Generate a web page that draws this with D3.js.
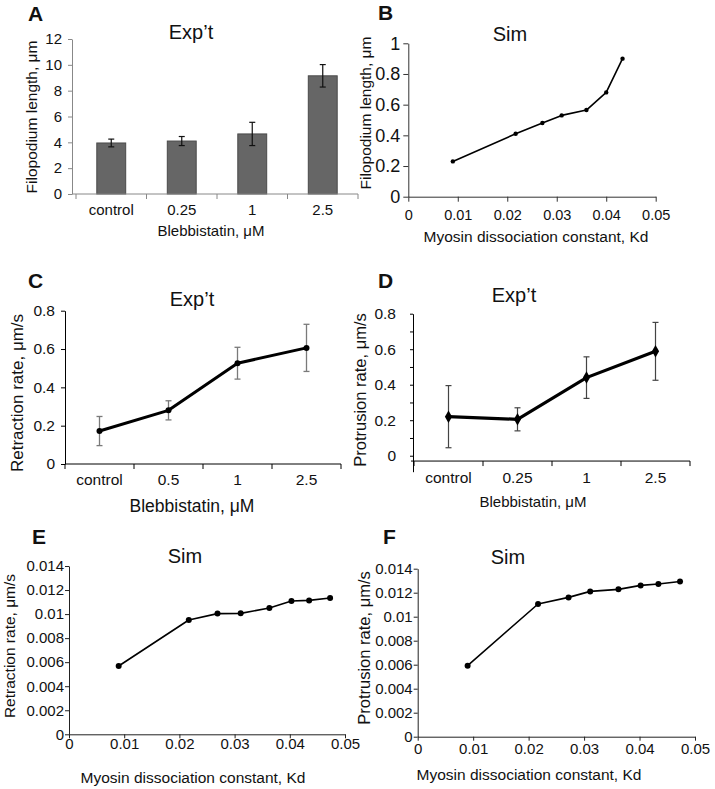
<!DOCTYPE html>
<html>
<head>
<meta charset="utf-8">
<script src="https://cdn.jsdelivr.net/npm/d3@7"></script>
<style>
    body { margin: 0; background: #fff; }
    svg text { font-family: "Liberation Sans", Arial, Helvetica, sans-serif; fill: #111; }
</style>
</head>
<body>
<div id="fig"></div>
<script>
// ---- data ----
// A: filopodium length (experiment)
const catsA = ["control", "0.25", "1", "2.5"];
const lengthA = [3.95, 4.1, 4.65, 9.15];
const errA = [0.3, 0.35, 0.9, 0.87];
const yTicksA = [0, 2, 4, 6, 8, 10, 12];

// B: filopodium length (simulation)
const kdB = [0.009, 0.0217, 0.0271, 0.031, 0.036, 0.040, 0.0433];
const lengthB = [0.23, 0.41, 0.48, 0.53, 0.565, 0.68, 0.90];
const yTicksB = [0, 0.2, 0.4, 0.6, 0.8, 1];

// C: retraction rate (experiment)
const catsC = ["control", "0.5", "1", "2.5"];
const retractC = [0.172, 0.28, 0.526, 0.606];
const errC = [0.076, 0.05, 0.083, 0.123];
const yTicksC = [0, 0.2, 0.4, 0.6, 0.8];

// D: protrusion rate (experiment)
const catsD = ["control", "0.25", "1", "2.5"];
const protrudeD = [0.22, 0.205, 0.44, 0.588];
const errD = [0.175, 0.065, 0.117, 0.163];
const yTicksD = [0, 0.2, 0.4, 0.6, 0.8];
const minorTicksD = [0.1, 0.3, 0.5, 0.7];

// E: retraction rate (simulation)
const kdE = [0.009, 0.0217, 0.0269, 0.0311, 0.0363, 0.0403, 0.0435, 0.0473];
const retractE = [0.00568, 0.00951, 0.01004, 0.01006, 0.01051, 0.01109, 0.01114, 0.01134];

// F: protrusion rate (simulation)
const kdF = [0.009, 0.0217, 0.0272, 0.0311, 0.0362, 0.0402, 0.0434, 0.0473];
const protrudeF = [0.00592, 0.01106, 0.01161, 0.01211, 0.01228, 0.01261, 0.01272, 0.01294];

const yTicksSim = [0, 0.002, 0.004, 0.006, 0.008, 0.01, 0.012, 0.014];
const xTicksKd = [0, 0.01, 0.02, 0.03, 0.04, 0.05];

const svg = d3.select("#fig").append("svg")
    .attr("width", 715)
    .attr("height", 789);

// helpers
function styleAxis(g, fs, color) {
    g.attr("font-family", null);
    g.selectAll("text").attr("font-size", fs);
    g.selectAll("path, line").attr("stroke", color);
    return g;
}

function leftAxis(y, x0, ticks, size, pad, fs, color) {
    let g = svg.append("g")
        .attr("transform", "translate(" + x0 + ",0)")
        .call(d3.axisLeft(y).tickValues(ticks).tickFormat(d => String(d))
            .tickSize(size).tickSizeOuter(0).tickPadding(pad));
    return styleAxis(g, fs, color);
}

function bottomLinear(x, y0, ticks, size, pad, fs, color) {
    let g = svg.append("g")
        .attr("transform", "translate(0," + y0 + ")")
        .call(d3.axisBottom(x).tickValues(ticks).tickFormat(d => String(d))
            .tickSize(size).tickSizeOuter(0).tickPadding(pad));
    return styleAxis(g, fs, color);
}

// category axis: labels in band centres, ticks on band boundaries
function bottomBand(x, y0, xStart, pad, fs, color) {
    let g = svg.append("g")
        .attr("transform", "translate(0," + y0 + ")")
        .call(d3.axisBottom(x).tickSize(0).tickPadding(pad));
    styleAxis(g, fs, color);
    g.select(".domain").remove();
    g.append("line")
        .attr("x1", xStart).attr("x2", x.range()[1])
        .attr("stroke", color);
    let bounds = d3.range(x.domain().length + 1).map(i => x.range()[0] + i * x.step());
    g.selectAll(".bound").data(bounds).enter().append("line")
        .attr("class", "bound")
        .attr("x1", d => d).attr("x2", d => d)
        .attr("y1", 0).attr("y2", 5)
        .attr("stroke", color);
    return g;
}

function label(x, y, txt, fs, opts = {}) {
    return svg.append("text")
        .attr("x", x).attr("y", y)
        .attr("text-anchor", opts.anchor || "middle")
        .attr("font-size", fs)
        .attr("font-weight", opts.bold ? "bold" : null)
        .text(txt);
}

function yLabel(bx, cy, txt, fs) {
    return svg.append("text")
        .attr("transform", "translate(" + bx + "," + cy + ") rotate(-90)")
        .attr("text-anchor", "middle")
        .attr("font-size", fs)
        .text(txt);
}

function errorBars(cx, ys, vals, errs, cap, color, width) {
    vals.forEach((v, i) => {
        let x = cx(i), top = ys(v + errs[i]), bot = ys(v - errs[i]);
        svg.append("line").attr("x1", x).attr("x2", x).attr("y1", top).attr("y2", bot)
            .attr("stroke", color).attr("stroke-width", width);
        [top, bot].forEach(yy => {
            svg.append("line").attr("x1", x - cap).attr("x2", x + cap).attr("y1", yy).attr("y2", yy)
                .attr("stroke", color).attr("stroke-width", width);
        });
    });
}

function linePlot(xs, ys, xv, yv, lw, r) {
    let pts = xv.map((d, i) => [xs(d), ys(yv[i])]);
    svg.append("path")
        .attr("d", d3.line()(pts))
        .attr("fill", "none").attr("stroke", "#000").attr("stroke-width", lw)
        .attr("stroke-linejoin", "round");
    svg.selectAll(null).data(pts).enter().append("circle")
        .attr("cx", d => d[0]).attr("cy", d => d[1]).attr("r", r)
        .attr("fill", "#000");
}

// ---------------- A ----------------
let xA = d3.scaleBand().domain(catsA).range([76, 358]);
let yA = d3.scaleLinear().domain([0, 12]).range([194, 39]);
let barW = xA.bandwidth() * 0.41;

svg.selectAll(".barA").data(lengthA).enter().append("rect")
    .attr("class", "barA")
    .attr("x", (d, i) => xA(catsA[i]) + xA.bandwidth() / 2 - barW / 2)
    .attr("y", d => yA(d))
    .attr("width", barW)
    .attr("height", d => yA(0) - yA(d))
    .attr("fill", "#666")
    .attr("stroke", "#4a4a4a");
errorBars(i => xA(catsA[i]) + xA.bandwidth() / 2, yA, lengthA, errA, 3, "#111", 1.2);
leftAxis(yA, 72, yTicksA, 4, 6, 15, "#888");
bottomBand(xA, 194, 72, 10, 15, "#888");
label(28, 21, "A", 21, {anchor: "start", bold: true});
label(191, 39, "Exp\u2019t", 20);
yLabel(37, 117, "Filopodium length, \u03bcm", 15.5);
label(211, 236, "Blebbistatin, \u03bcM", 15);

// ---------------- B ----------------
let xB = d3.scaleLinear().domain([0, 0.05]).range([408.3, 655.7]);
let yB = d3.scaleLinear().domain([0, 1]).range([196.7, 43.3]);
leftAxis(yB, 408.3, yTicksB, 5, 3, 18, "#333");
bottomLinear(xB, 196.7, xTicksKd, 5, 8, 14.5, "#333");
linePlot(xB, yB, kdB, lengthB, 1.6, 2.2);
label(378, 20, "B", 21, {anchor: "start", bold: true});
label(510, 41, "Sim", 20);
yLabel(371, 113, "Filopodium length, \u03bcm", 15.5);
label(536, 242, "Myosin dissociation constant, Kd", 15.5);

// ---------------- C ----------------
let xC = d3.scaleBand().domain(catsC).range([65, 341]);
let yC = d3.scaleLinear().domain([0, 0.8]).range([464, 310.7]);
let cxC = i => xC(catsC[i]) + xC.bandwidth() / 2;
errorBars(cxC, yC, retractC, errC, 3, "#7a7a7a", 1.3);
leftAxis(yC, 65, yTicksC, 4, 6, 15.5, "#000");
bottomBand(xC, 464, 65, 10, 15.5, "#000");
linePlot(i => cxC(i), yC, d3.range(catsC.length), retractC, 3, 3);
label(28, 288, "C", 21, {anchor: "start", bold: true});
label(192, 306, "Exp\u2019t", 20);
yLabel(22.7, 393, "Retraction rate, \u03bcm/s", 17);
label(192, 512, "Blebbistatin, \u03bcM", 17.5);

// ---------------- D ----------------
let xD = d3.scaleBand().domain(catsD).range([414, 690]);
let yD = d3.scaleLinear().domain([-0.09, 0.8]).range([471.7, 313.7]);
let cxD = i => xD(catsD[i]) + xD.bandwidth() / 2;
errorBars(cxD, yD, protrudeD, errD, 3, "#444", 1.2);
let gD = leftAxis(yD, 413, yTicksD.concat(minorTicksD), 3, 14, 15.5, "#000");
gD.selectAll(".tick text").text(d => minorTicksD.includes(d) ? "" : String(d));
bottomBand(xD, yD(-0.03), 411, 11, 15.5, "#000");
let ptsD = protrudeD.map((v, i) => [cxD(i), yD(v)]);
svg.append("path").attr("d", d3.line()(ptsD))
    .attr("fill", "none").attr("stroke", "#000").attr("stroke-width", 3.2);
svg.selectAll(".dia").data(ptsD).enter().append("path")
    .attr("class", "dia")
    .attr("transform", d => "translate(" + d[0] + "," + d[1] + ")")
    .attr("d", d3.symbol(d3.symbolDiamond, 45))
    .attr("fill", "#000");
label(378, 288, "D", 21, {anchor: "start", bold: true});
label(514, 302, "Exp\u2019t", 20);
yLabel(366, 390, "Protrusion rate, \u03bcm/s", 16.5);
label(533, 507, "Blebbistatin, \u03bcM", 15);

// ---------------- E ----------------
let xE = d3.scaleLinear().domain([0, 0.05]).range([69, 345]);
let yE = d3.scaleLinear().domain([0, 0.014]).range([734.3, 566]);
leftAxis(yE, 69, yTicksSim, 4, 1, 15, "#222");
bottomLinear(xE, 734.3, xTicksKd, 4, 0, 15, "#222");
linePlot(xE, yE, kdE, retractE, 1.6, 3);
label(32, 544, "E", 21, {anchor: "start", bold: true});
label(185, 563, "Sim", 20);
yLabel(15, 646, "Retraction rate, \u03bcm/s", 15.5);
label(193, 783, "Myosin dissociation constant, Kd", 15.5);

// ---------------- F ----------------
let xF = d3.scaleLinear().domain([0, 0.05]).range([417.7, 695]);
let yF = d3.scaleLinear().domain([0, 0.014]).range([736.7, 568.7]);
leftAxis(yF, 417.7, yTicksSim, 4, 1, 15, "#222");
bottomLinear(xF, 736.7, xTicksKd, 4, 3, 15, "#222");
linePlot(xF, yF, kdF, protrudeF, 1.6, 3);
label(383, 544, "F", 21, {anchor: "start", bold: true});
label(508, 564, "Sim", 20);
yLabel(370, 648, "Protrusion rate, \u03bcm/s", 16.5);
label(529, 780, "Myosin dissociation constant, Kd", 15.5);
</script>
</body>
</html>
